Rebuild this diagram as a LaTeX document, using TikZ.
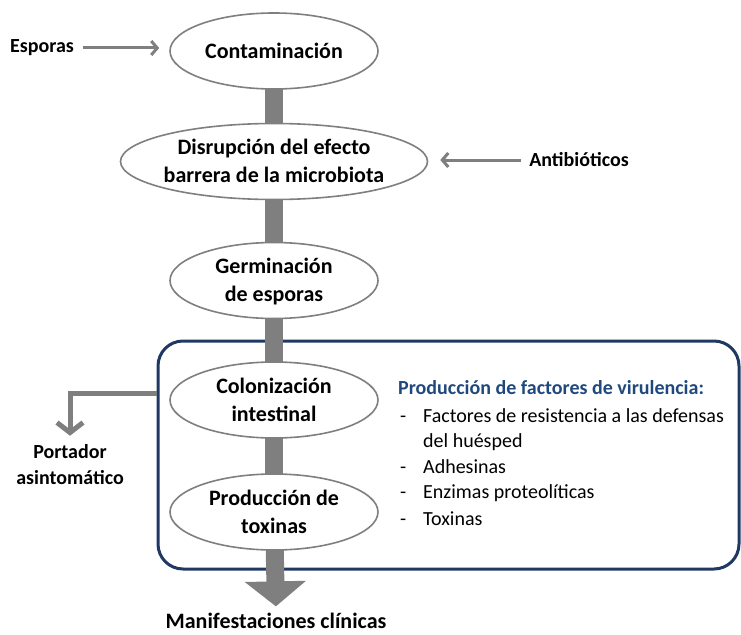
\documentclass[tikz,border=0pt]{standalone}
\usepackage{fontspec}
\setmainfont{Carlito}
\usetikzlibrary{
	shapes.geometric,
	arrows.meta,
	backgrounds
}
\definecolor{gris}{RGB}{127,127,127}
\definecolor{marino}{RGB}{31,56,100}
\definecolor{azultitulo}{RGB}{31,73,125}
% texto centrado que no agranda la elipse
\newcommand{\enelipse}[1]{\smash{\makebox[0pt]{\raisebox{-7pt}{\begin{tabular}{@{}c@{}}#1\end{tabular}}}}}
\tikzset{
	paso/.style={
		ellipse,
		draw=gris,
		line width=1.6pt,
		fill=white,
		minimum width=208pt,
		minimum height=76pt,
		inner sep=0pt,
		font=\fontsize{22}{28}\selectfont\bfseries
	},
	barra/.style={
		gris,
		line width=18pt
	},
	lateral/.style={
		inner sep=0pt,
		align=center,
		font=\fontsize{20}{26}\selectfont\bfseries
	},
	lista/.style={
		anchor=base west,
		inner sep=0pt,
		font=\fontsize{20}{26}\selectfont
	},
	flechita/.style={
		gris,
		line width=3pt,
		-{Straight Barb[length=6pt,width=14pt]}
	}
}

\begin{document}
\begin{tikzpicture}[x=1pt,y=-1pt]
		\useasboundingbox (0,0) rectangle (741,634);
		% pasos
		\node[paso] (cont) at (274,51) {\enelipse{Contaminación}};
		\node[paso, minimum width=307pt] (disr) at (274,161.5) {\enelipse{Disrupción del efecto\\barrera de la microbiota}};
		\node[paso] (germ) at (274,280.5) {\enelipse{Germinación\\de esporas}};
		\node[paso] (col) at (274,400) {\enelipse{Colonización\\intestinal}};
		\node[paso] (tox) at (274,512) {\enelipse{Producción de\\toxinas}};
		\node[lateral, anchor=base, font=\fontsize{22}{28}\selectfont\bfseries] (manif) at (276,628) {Manifestaciones clínicas};
		
		\begin{scope}[on background layer]
			\node[draw=marino, line width=3pt, rounded corners=25pt,
				minimum width=581pt, minimum height=228pt] (grupo) at (448.5,455) {};
			\foreach \a/\b in {cont/disr, disr/germ, germ/col, col/tox}
				\draw[barra] (\a.center) -- (\b.center);
			\draw[barra, -{Triangle[length=25pt,width=60pt]}, shorten >=6pt] (tox.center) -- (manif.north);
		\end{scope}
		
		% entradas laterales
		\node[lateral] (esp) at (42,48) {Esporas};
		\draw[flechita] ([xshift=9pt]esp.east) -- ([xshift=-10pt]esp.east -| cont.west);
		\node[lateral] (anti) at (579,160) {Antibióticos};
		\draw[flechita] ([xshift=-8pt]anti.west) -- ([xshift=12pt]anti.west -| disr.east);
		
		% salida portador
		\node[lateral] (port) at (70,465) {Portador\\asintomático};
		\coordinate (codo) at (70,393);
		\draw[gris, line width=5pt, -{Straight Barb[length=10pt,width=26pt]}, shorten >=9pt]
			(grupo.west |- codo) -| (port.north);
		
		% factores de virulencia
		\node[lista, font=\fontsize{20}{26}\selectfont\bfseries, text=azultitulo] (titulo) at (398,394) {Producción de factores de virulencia:};
		\foreach \texto/\yy [count=\i] in {Factores de resistencia a las defensas/422, del huésped/447, Adhesinas/473, Enzimas proteolíticas/498, Toxinas/525}
			\node[lista] (linea\i) at (423,\yy) {\texto};
		\foreach \yy [count=\i] in {422,473,498,525}
			\node[lista] (guion\i) at (400,\yy) {-};
	\end{tikzpicture}
\end{document}
